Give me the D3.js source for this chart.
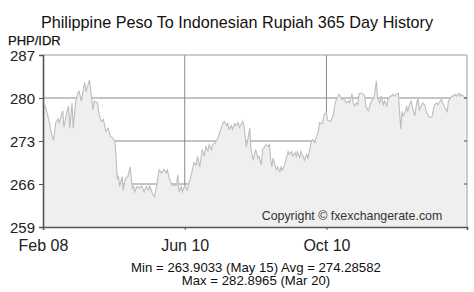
<!DOCTYPE html>
<html>
<head>
<meta charset="utf-8">
<script src="https://cdn.jsdelivr.net/npm/d3@7"></script>
<style>
  body { margin: 0; background: #fff; }
  text { font-family: "Liberation Sans", Arial, sans-serif; }
</style>
</head>
<body>
<script>
// day offsets from Feb 08 and the PHP/IDR rate
const days = [0,2,5,7,9,11,13,14,17,18,20,22,23,25,26,28,30,31,33,35,36,37,40,41,43,44,47,48,50,52,54,56,58,60,62,
  64,65,66,68,69,71,73,75,77,78,79,81,83,85,87,89,91,92,94,96,98,100,102,104,106,107,109,111,113,115,116,117,119,120,122,124,
  126,128,130,132,133,135,136,137,139,140,142,143,145,146,148,150,152,155,156,158,159,160,162,163,165,166,168,169,171,172,173,
  175,176,178,179,181,182,183,185,186,188,189,192,194,195,196,197,198,199,201,202,204,205,206,208,209,211,212,214,215,217,218,
  219,221,222,224,225,227,228,229,231,232,234,235,237,238,240,241,242,244,245,247,248,250,251,252,254,255,257,258,260,261,263,
  264,266,267,268,270,271,272,274,276,277,278,280,281,282,284,285,287,288,290,291,293,294,296,297,299,300,301,303,304,306,307,
  308,309,310,312,313,314,316,317,319,320,322,323,324,326,327,329,330,332,333,335,336,337,339,340,342,343,344,346,348,349,350,
  352,353,355,356,358,359,360,362,363,364];
const rates = [279.0,278.7,276.5,274.4,273.1,276.0,276.6,276.0,277.9,275.2,277.3,278.7,275.1,279.2,275.1,279.2,280.9,281.1,279.5,281.7,282.5,
  281.0,282.9,281.4,278.1,279.5,279.2,277.6,276.2,276.5,274.6,275.1,273.8,273.5,272.9,
  266.8,267.2,265.6,267.2,265.0,266.9,267.2,268.8,265.3,265.6,264.7,265.6,265.3,265.7,264.7,265.6,265.0,265.7,264.5,263.9,265.8,268.3,
  267.8,268.4,267.8,268.3,266.7,265.8,265.8,265.8,267.5,264.7,265.6,264.7,265.8,265.0,
  266.4,267.8,269.5,269.1,270.5,268.8,270.2,271.6,270.5,272.1,271.4,272.4,271.6,272.4,272.7,273.2,274.3,276.0,276.2,275.5,275.9,274.9,
  275.5,274.9,275.8,275.5,276.0,275.2,275.8,276.2,275.5,
  272.1,272.9,275.1,271.6,269.9,270.8,271.6,270.2,270.5,269.1,271.6,272.4,272.1,272.4,269.9,268.8,270.2,269.6,268.3,268.8,268.0,
  268.8,268.3,269.1,269.9,271.3,270.8,271.3,270.5,271.1,270.5,
  271.3,270.2,271.3,270.5,269.9,270.8,270.2,271.1,272.9,273.2,272.7,273.5,274.6,276.0,275.8,276.2,277.3,277.6,276.4,276.2,276.4,
  277.3,278.7,279.5,280.3,280.6,279.8,280.0,279.5,279.2,279.5,
  279.2,280.7,279.2,278.7,279.2,278.9,280.7,280.8,280.6,280.3,278.7,277.9,278.4,279.2,279.8,280.0,282.8,280.0,279.2,280.3,278.9,
  279.5,278.7,279.8,280.3,280.3,280.6,280.3,280.6,280.8,277.6,
  274.9,277.8,277.1,277.8,278.7,277.8,279.2,279.5,277.8,277.1,279.5,279.8,278.1,278.9,279.2,278.7,277.8,277.0,276.8,277.0,278.1,
  278.9,279.2,278.9,279.5,279.8,279.2,278.4,277.8,279.5,279.8,
  280.3,280.3,280.6,280.3,280.8,280.3,280.6,280.3,280.0,279.8];

const yTicks = [259, 266, 273, 280, 287];
const xTickDates = ["2023-02-08", "2023-06-10", "2023-10-10", "2024-02-08"];
const xTickLabels = ["Feb 08", "Jun 10", "Oct 10", ""];
const statLines = ["Min = 263.9033 (May 15) Avg = 274.28582", "Max = 282.8965 (Mar 20)"];

const W = 474, H = 292;
const plotL = 43, plotR = 467, plotT = 55, plotB = 227;

const parse = d3.timeParse("%Y-%m-%d");
const start = parse("2023-02-08");
const data = days.map((d, i) => ({ date: d3.timeDay.offset(start, d), v: rates[i] }));

const x = d3.scaleTime().domain([start, parse("2024-02-08")]).range([plotL, plotR]);
const y = d3.scaleLinear().domain([259, 287]).range([plotB, plotT]);

const svg = d3.select("body").append("svg")
    .attr("width", W)
    .attr("height", H);

// title
svg.append("text")
    .attr("x", 237).attr("y", 28)
    .attr("text-anchor", "middle")
    .attr("font-size", 16.2)
    .attr("fill", "#111")
    .text("Philippine Peso To Indonesian Rupiah 365 Day History");

svg.append("text")
    .attr("x", 8).attr("y", 44.5)
    .attr("font-size", 13)
    .attr("fill", "#111")
    .attr("stroke", "#111")
    .attr("stroke-width", 0.25)
    .text("PHP/IDR");

// gridlines (sit under the area)
svg.append("g").selectAll("line")
    .data(yTicks.slice(1, -1))
    .enter().append("line")
    .attr("x1", plotL).attr("x2", plotR)
    .attr("y1", d => y(d)).attr("y2", d => y(d))
    .attr("stroke", "#8a8a8a");

svg.append("g").selectAll("line")
    .data(xTickDates.slice(1, -1))
    .enter().append("line")
    .attr("x1", d => x(parse(d))).attr("x2", d => x(parse(d)))
    .attr("y1", plotT).attr("y2", plotB)
    .attr("stroke", "#8a8a8a");

// area and line
const area = d3.area()
    .x(d => x(d.date))
    .y0(plotB)
    .y1(d => y(d.v));

const line = d3.line()
    .x(d => x(d.date))
    .y(d => y(d.v));

svg.append("path")
    .datum(data)
    .attr("d", area)
    .attr("fill", "#efefef");

svg.append("path")
    .datum(data)
    .attr("d", line)
    .attr("fill", "none")
    .attr("stroke", "#bdbdbd")
    .attr("stroke-width", 1.1);

// frame: light top/right, dark left/bottom
svg.append("line")
    .attr("x1", plotL).attr("x2", plotR)
    .attr("y1", plotT).attr("y2", plotT)
    .attr("stroke", "#9a9a9a");
svg.append("line")
    .attr("x1", plotR).attr("x2", plotR)
    .attr("y1", plotT).attr("y2", plotB)
    .attr("stroke", "#9a9a9a");

// y axis
const yAxis = svg.append("g")
    .attr("transform", "translate(" + plotL + ",0)")
    .call(d3.axisLeft(y).tickValues(yTicks).tickSize(4).tickPadding(4));
yAxis.select(".domain").attr("stroke", "#555").attr("stroke-width", 1.6);
yAxis.selectAll(".tick line").attr("stroke", "#555");
yAxis.selectAll(".tick text")
    .attr("font-size", 15)
    .attr("dy", "0.36em")
    .attr("fill", "#222")
    .attr("font-family", "Liberation Sans, Arial, sans-serif");

// small inner ticks on the right edge
svg.append("g").selectAll("line")
    .data(yTicks.slice(1, -1))
    .enter().append("line")
    .attr("x1", plotR - 3).attr("x2", plotR)
    .attr("y1", d => y(d)).attr("y2", d => y(d))
    .attr("stroke", "#555");

// x axis
const xAxis = svg.append("g")
    .attr("transform", "translate(0," + plotB + ")")
    .call(d3.axisBottom(x)
        .tickValues(xTickDates.map(parse))
        .tickFormat((d, i) => xTickLabels[i])
        .tickSize(3).tickPadding(10));
xAxis.select(".domain").attr("stroke", "#555").attr("stroke-width", 1.6);
xAxis.selectAll(".tick line").attr("stroke", "#555");
xAxis.selectAll(".tick text")
    .attr("font-size", 16)
    .attr("fill", "#222")
    .attr("font-family", "Liberation Sans, Arial, sans-serif");

// copyright
svg.append("text")
    .attr("x", 352).attr("y", 219.5)
    .attr("text-anchor", "middle")
    .attr("font-size", 12.4)
    .attr("fill", "#333")
    .text("Copyright \u00a9 fxexchangerate.com");

// stats under the chart
svg.append("g").selectAll("text")
    .data(statLines)
    .enter().append("text")
    .attr("x", 256)
    .attr("y", (d, i) => 271.5 + i * 13.5)
    .attr("text-anchor", "middle")
    .attr("font-size", 13.2)
    .attr("fill", "#111")
    .text(d => d);
</script>
</body>
</html>
